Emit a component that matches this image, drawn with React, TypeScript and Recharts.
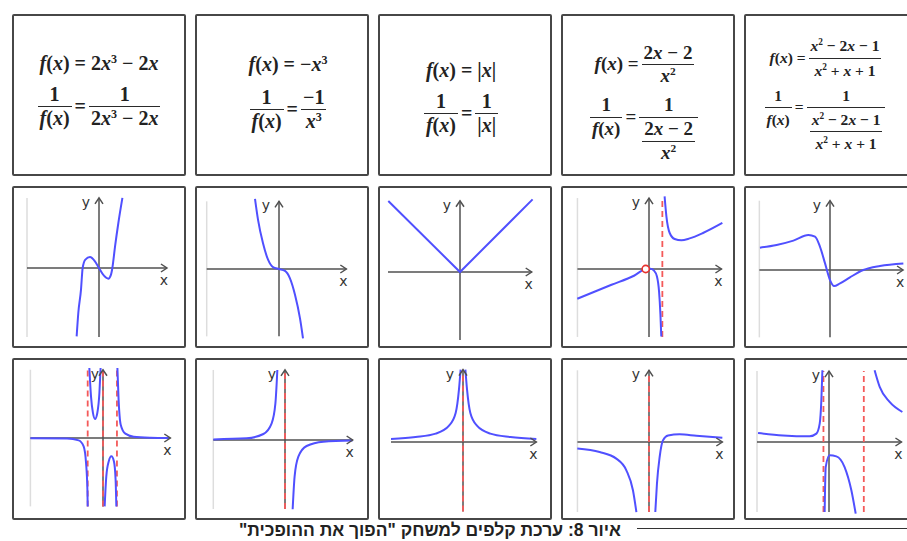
import React from "react";
import { LineChart, Line, XAxis, YAxis, ReferenceLine, ReferenceDot } from "recharts";

type P = [number, number];

// curve points, in grid units (about 15 px per unit)
const cubicCurve: P[] = [[-1.49, -4.56], [-1.38, -3.0], [-1.2, -1.44], [-1.09, 0], [-0.91, 0.56], [-0.6, 0.73], [-0.27, 0.44], [0, 0], [0.33, -0.51], [0.62, -0.71], [0.8, -0.44], [0.89, 0], [1.07, 1.44], [1.29, 3.0], [1.56, 4.67]];
const negCubeCurve: P[] = [[-1.6, 4.67], [-1.4, 3.29], [-1.07, 1.73], [-0.73, 0.62], [-0.4, 0.13], [0, 0], [0.4, -0.13], [0.73, -0.62], [1.07, -1.73], [1.4, -3.29], [1.6, -4.62]];
const absCurve: P[] = [[-4.78, 4.73], [0, 0], [4.84, 4.84]];
const ratioLeft: P[] = [[-4.78, -1.98], [-2.5, -1.05], [-1.0, -0.45], [-0.22, 0], [0.1, 0.02], [0.33, -0.1], [0.53, -0.5], [0.67, -1.5], [0.76, -3.0], [0.82, -4.5]];
const ratioRight: P[] = [[1.04, 4.84], [1.16, 3.51], [1.38, 2.4], [1.71, 2.0], [2.16, 1.91], [2.71, 2.04], [3.6, 2.4], [4.89, 3.07]];
const rationalCurve: P[] = [[-4.67, 1.49], [-3.56, 1.67], [-2.44, 1.96], [-1.44, 2.33], [-1.0, 2.22], [-0.67, 1.56], [-0.33, 0.44], [0, -0.67], [0.27, -1.07], [0.67, -0.89], [1.33, -0.49], [2.22, 0], [3.33, 0.27], [4.89, 0.44]];

const recCubicA: P[] = [[-4.84, -0.02], [-2.4, -0.04], [-1.62, -0.16], [-1.29, -0.56], [-1.13, -1.67], [-1.04, -3.44], [-1.02, -4.56]];
const recCubicB: P[] = [[-0.91, 4.67], [-0.8, 2.78], [-0.67, 1.67], [-0.53, 1.27], [-0.38, 1.67], [-0.24, 3.0], [-0.16, 4.67]];
const recCubicC: P[] = [[0.11, -4.56], [0.22, -2.56], [0.38, -1.56], [0.56, -1.22], [0.73, -1.56], [0.84, -2.78], [0.89, -4.56]];
const recCubicD: P[] = [[0.96, 4.67], [1.04, 2.56], [1.18, 0.89], [1.49, 0.29], [2.04, 0.09], [3.16, 0.02], [4.38, 0]];
const recNegCubeA: P[] = [[-4.78, 0.04], [-2.56, 0.11], [-1.44, 0.4], [-0.89, 1.11], [-0.64, 2.44], [-0.51, 4.67]];
const recNegCubeB: P[] = [[0.51, -4.62], [0.64, -2.44], [0.89, -1.11], [1.44, -0.4], [2.56, -0.11], [4.51, -0.04]];
const recAbsA: P[] = [[-4.8, 0.2], [-3.16, 0.33], [-1.82, 0.56], [-0.93, 1.09], [-0.49, 1.93], [-0.27, 3.49], [-0.16, 4.82]];
const recAbsB: P[] = [[0.16, 4.82], [0.27, 3.49], [0.49, 1.93], [0.93, 1.09], [1.82, 0.56], [3.16, 0.33], [4.89, 0.2]];
const recRatioA: P[] = [[-4.78, -0.44], [-3.29, -0.67], [-2.18, -1.11], [-1.51, -1.89], [-1.07, -3.22], [-0.84, -4.67]];
const recRatioB: P[] = [[0.42, -4.67], [0.53, -2.78], [0.71, -1.0], [0.93, 0.11], [1.27, 0.44], [2.04, 0.51], [3.16, 0.42], [4.89, 0.29]];
const recRationalA: P[] = [[-4.73, 0.6], [-3.07, 0.44], [-1.29, 0.38], [-0.84, 0.56], [-0.62, 1.22], [-0.51, 2.78], [-0.44, 4.78]];
const recRationalB: P[] = [[-0.29, -4.67], [-0.22, -1.67], [0.04, -0.89], [0.49, -0.96], [1.04, -1.67], [1.49, -3.22], [1.78, -4.78]];
const recRationalC: P[] = [[3.04, 4.78], [3.38, 3.67], [4.04, 2.67], [4.89, 2.0]];

// vertical asymptotes and the open point
const ratioAsymptotes = [0.89];
const ratioHoles: P[] = [[-0.22, 0]];
const recCubicAsymptotes = [-1.02, 0, 0.93];
const yAxisAsymptote = [0];
const recRationalAsymptotes = [-0.37, 2.32];

const U = 15;
const CARD_W = 174;
const CARD_H = 162;
const COLS = [12, 195, 378, 561, 744];
const ROWS = [14, 186, 358];
const BLUE = "#5050ff";
const RED = "#f45a5a";
const AXIS = "#505050";
const EDGE = "#dddddd";
const SERIF = "'Liberation Serif', 'Times New Roman', serif";

type GraphCard = {
  col: number;
  row: number;
  origin: [number, number];
  xSpan: [number, number];
  ySpan: [number, number];
  branches: P[][];
  asymptotes?: number[];
  holes?: P[];
  straight?: boolean;
  edge?: boolean;
  yLabelDx?: number;
};

const graphs: GraphCard[] = [
  { col: 0, row: 1, origin: [87, 82], xSpan: [-4.8, 4.53], ySpan: [-4.6, 4.67], branches: [cubicCurve] },
  { col: 1, row: 1, origin: [84, 83], xSpan: [-4.82, 4.49], ySpan: [-4.49, 4.51], branches: [negCubeCurve] },
  { col: 2, row: 1, origin: [82, 86], xSpan: [-4.8, 4.78], ySpan: [-4.53, 4.75], branches: [absCurve], straight: true, edge: false },
  { col: 3, row: 1, origin: [88, 83], xSpan: [-4.77, 4.83], ySpan: [-4.53, 4.73], branches: [ratioLeft, ratioRight], asymptotes: ratioAsymptotes, holes: ratioHoles },
  { col: 4, row: 1, origin: [86, 84], xSpan: [-4.71, 4.87], ySpan: [-4.49, 4.62], branches: [rationalCurve] },
  { col: 0, row: 2, origin: [91, 80], xSpan: [-4.84, 4.49], ySpan: [-4.56, 4.55], branches: [recCubicA, recCubicB, recCubicC, recCubicD], asymptotes: recCubicAsymptotes, yLabelDx: -8 },
  { col: 1, row: 2, origin: [90, 82], xSpan: [-4.78, 4.51], ySpan: [-4.6, 4.67], branches: [recNegCubeA, recNegCubeB], asymptotes: yAxisAsymptote },
  { col: 2, row: 2, origin: [85, 84], xSpan: [-4.8, 4.89], ySpan: [-4.63, 4.82], branches: [recAbsA, recAbsB], asymptotes: yAxisAsymptote, edge: false },
  { col: 3, row: 2, origin: [88, 84], xSpan: [-4.77, 4.89], ySpan: [-4.67, 4.78], branches: [recRatioA, recRatioB], asymptotes: yAxisAsymptote },
  { col: 4, row: 2, origin: [85, 84], xSpan: [-4.8, 4.83], ySpan: [-4.67, 4.73], branches: [recRationalA, recRationalB, recRationalC], asymptotes: recRationalAsymptotes },
];

const toRows = (pts: P[]) => pts.map(([x, y]) => ({ x, y }));

const xArrow = (p: any) => (
  <g>
    <path d={`M${p.cx - 6},${p.cy - 4}L${p.cx},${p.cy}L${p.cx - 6},${p.cy + 4}`} fill="none" stroke={AXIS} strokeWidth={1.5} />
    <text x={p.cx - 3} y={p.cy + 17} textAnchor="middle" fontFamily="'DejaVu Sans', sans-serif" fontSize={14} fill="#333">x</text>
  </g>
);

const yArrow = (p: any, dx: number) => (
  <g>
    <path d={`M${p.cx - 4},${p.cy + 6}L${p.cx},${p.cy}L${p.cx + 4},${p.cy + 6}`} fill="none" stroke={AXIS} strokeWidth={1.5} />
    <text x={p.cx + dx} y={p.cy + 9} textAnchor="middle" fontFamily="'DejaVu Sans', sans-serif" fontSize={14} fill="#333">y</text>
  </g>
);

function Graph({ g }: { g: GraphCard }) {
  const [ox, oy] = g.origin;
  const xDomain = [-ox / U, (CARD_W - ox) / U];
  const yDomain = [-(CARD_H - oy) / U, oy / U];
  return (
    <LineChart width={CARD_W} height={CARD_H} margin={{ top: 0, right: 0, bottom: 0, left: 0 }}>
      <XAxis type="number" dataKey="x" domain={xDomain} allowDataOverflow hide />
      <YAxis type="number" dataKey="y" domain={yDomain} allowDataOverflow hide />
      {g.edge !== false && (
        <ReferenceLine segment={[{ x: g.xSpan[0], y: g.ySpan[0] }, { x: g.xSpan[0], y: g.ySpan[1] }]} stroke={EDGE} strokeWidth={1.5} />
      )}
      <ReferenceLine segment={[{ x: g.xSpan[0], y: 0 }, { x: g.xSpan[1], y: 0 }]} stroke={AXIS} strokeWidth={1.5} />
      <ReferenceLine segment={[{ x: 0, y: g.ySpan[0] }, { x: 0, y: g.ySpan[1] }]} stroke={AXIS} strokeWidth={1.5} />
      {(g.asymptotes || []).map((a, i) => (
        <ReferenceLine key={`a${i}`} segment={[{ x: a, y: g.ySpan[0] }, { x: a, y: g.ySpan[1] }]} stroke={RED} strokeWidth={1.8} strokeDasharray="6 4" />
      ))}
      {g.branches.map((b, i) => (
        <Line key={`b${i}`} data={toRows(b)} dataKey="y" type={g.straight ? "linear" : "monotone"} stroke={BLUE} strokeWidth={2} dot={false} isAnimationActive={false} />
      ))}
      <ReferenceDot x={g.xSpan[1]} y={0} r={0} shape={xArrow} />
      <ReferenceDot x={0} y={g.ySpan[1]} r={0} shape={(p: any) => yArrow(p, g.yLabelDx ?? -13)} />
      {(g.holes || []).map(([hx, hy], i) => (
        <ReferenceDot key={`h${i}`} x={hx} y={hy} r={3.6} fill="#fff" stroke="#e8322e" strokeWidth={1.6} />
      ))}
    </LineChart>
  );
}

// formula helpers
const Fx = () => (
  <span>
    <i>f</i>(<i>x</i>)
  </span>
);
const Sup = ({ c }: { c: string }) => (
  <span style={{ fontSize: "0.6em", verticalAlign: "0.6em", lineHeight: 0 }}>{c}</span>
);
const cell: React.CSSProperties = { lineHeight: "var(--lh)", padding: "0 2px", whiteSpace: "nowrap" };
const Frac = ({ n, d }: { n: React.ReactNode; d: React.ReactNode }) => (
  <span style={{ display: "inline-flex", flexDirection: "column", alignItems: "center", margin: "0 1px" }}>
    <span style={cell}>{n}</span>
    <span style={{ alignSelf: "stretch", borderTop: "1.6px solid #2a2a2a" }} />
    <span style={cell}>{d}</span>
  </span>
);
const Mid = ({ children }: { children: React.ReactNode }) => (
  <span style={{ height: "calc(2 * var(--lh))", display: "flex", alignItems: "center", whiteSpace: "nowrap", margin: "0 2px" }}>{children}</span>
);
const Row = ({ children }: { children: React.ReactNode }) => (
  <div style={{ display: "flex", alignItems: "flex-start", whiteSpace: "nowrap" }}>{children}</div>
);

const cubicText = (
  <>
    2<i>x</i>
    <Sup c="3" /> − 2<i>x</i>
  </>
);
const xSq = (
  <>
    <i>x</i>
    <Sup c="2" />
  </>
);
const linText = (
  <>
    2<i>x</i> − 2
  </>
);
const quadTop = (
  <>
    <i>x</i>
    <Sup c="2" /> − 2<i>x</i> − 1
  </>
);
const quadBottom = (
  <>
    <i>x</i>
    <Sup c="2" /> + <i>x</i> + 1
  </>
);

const formulas: { size: number; lh: string; gap: number; dx: number; dy: number; body: React.ReactNode }[] = [
  {
    size: 20, lh: "1.15em", gap: 8, dx: 0, dy: -4,
    body: (
      <>
        <div>
          <Fx /> = {cubicText}
        </div>
        <Row>
          <Frac n="1" d={<Fx />} />
          <Mid>=</Mid>
          <Frac n="1" d={cubicText} />
        </Row>
      </>
    ),
  },
  {
    size: 20, lh: "1.15em", gap: 10, dx: 6, dy: -2,
    body: (
      <>
        <div>
          <Fx /> = −<i>x</i>
          <Sup c="3" />
        </div>
        <Row>
          <Frac n="1" d={<Fx />} />
          <Mid>=</Mid>
          <Frac n="−1" d={<><i>x</i><Sup c="3" /></>} />
        </Row>
      </>
    ),
  },
  {
    size: 20, lh: "1.15em", gap: 8, dx: -4, dy: 3,
    body: (
      <>
        <div>
          <Fx /> = |<i>x</i>|
        </div>
        <Row>
          <Frac n="1" d={<Fx />} />
          <Mid>=</Mid>
          <Frac n="1" d={<>|<i>x</i>|</>} />
        </Row>
      </>
    ),
  },
  {
    size: 19, lh: "1.2em", gap: 6, dx: -4, dy: 8,
    body: (
      <>
        <Row>
          <Mid>
            <Fx />
            &nbsp;=
          </Mid>
          <Frac n={linText} d={xSq} />
        </Row>
        <Row>
          <Frac n="1" d={<Fx />} />
          <Mid>=</Mid>
          <Frac n="1" d={<Frac n={linText} d={xSq} />} />
        </Row>
      </>
    ),
  },
  {
    size: 15.5, lh: "1.5em", gap: 2, dx: -6, dy: 0,
    body: (
      <>
        <Row>
          <Mid>
            <Fx />
            &nbsp;=
          </Mid>
          <Frac n={quadTop} d={quadBottom} />
        </Row>
        <Row>
          <Frac n="1" d={<Fx />} />
          <Mid>=</Mid>
          <Frac n="1" d={<Frac n={quadTop} d={quadBottom} />} />
        </Row>
      </>
    ),
  },
];

const cardBox = (col: number, row: number): React.CSSProperties => ({
  position: "absolute",
  left: COLS[col],
  top: ROWS[row],
  width: CARD_W,
  height: CARD_H,
  boxSizing: "border-box",
  border: "2px solid #474747",
  borderRadius: 2,
  background: "#fff",
});

export default function App() {
  return (
    <div style={{ position: "absolute", left: 0, top: 0, width: 907, height: 541, overflow: "hidden", background: "#fff" }}>
      {formulas.map((f, i) => (
        <div key={`f${i}`} style={cardBox(i, 0)}>
          <div
            style={{
              position: "absolute",
              left: f.dx,
              top: f.dy,
              width: CARD_W - 4,
              height: CARD_H - 4,
              display: "flex",
              flexDirection: "column",
              alignItems: "center",
              justifyContent: "center",
              gap: f.gap,
              fontFamily: SERIF,
              fontWeight: 700,
              fontSize: f.size,
              color: "#222",
              ["--lh" as any]: f.lh,
            }}
          >
            {f.body}
          </div>
        </div>
      ))}
      {graphs.map((g, i) => (
        <div key={`g${i}`} style={cardBox(g.col, g.row)}>
          <div style={{ position: "absolute", left: -2, top: -2 }}>
            <Graph g={g} />
          </div>
        </div>
      ))}
      <div
        style={{
          position: "absolute",
          left: 0,
          top: 520,
          width: 621,
          textAlign: "right",
          direction: "rtl",
          fontFamily: "'Liberation Sans', 'DejaVu Sans', sans-serif",
          fontWeight: 700,
          fontSize: 17.5,
          color: "#222",
          whiteSpace: "nowrap",
        }}
      >
        איור 8: ערכת קלפים למשחק "הפוך את ההופכית"
      </div>
      <div style={{ position: "absolute", left: 637, top: 528, width: 270, borderTop: "1.5px solid #333" }} />
    </div>
  );
}
